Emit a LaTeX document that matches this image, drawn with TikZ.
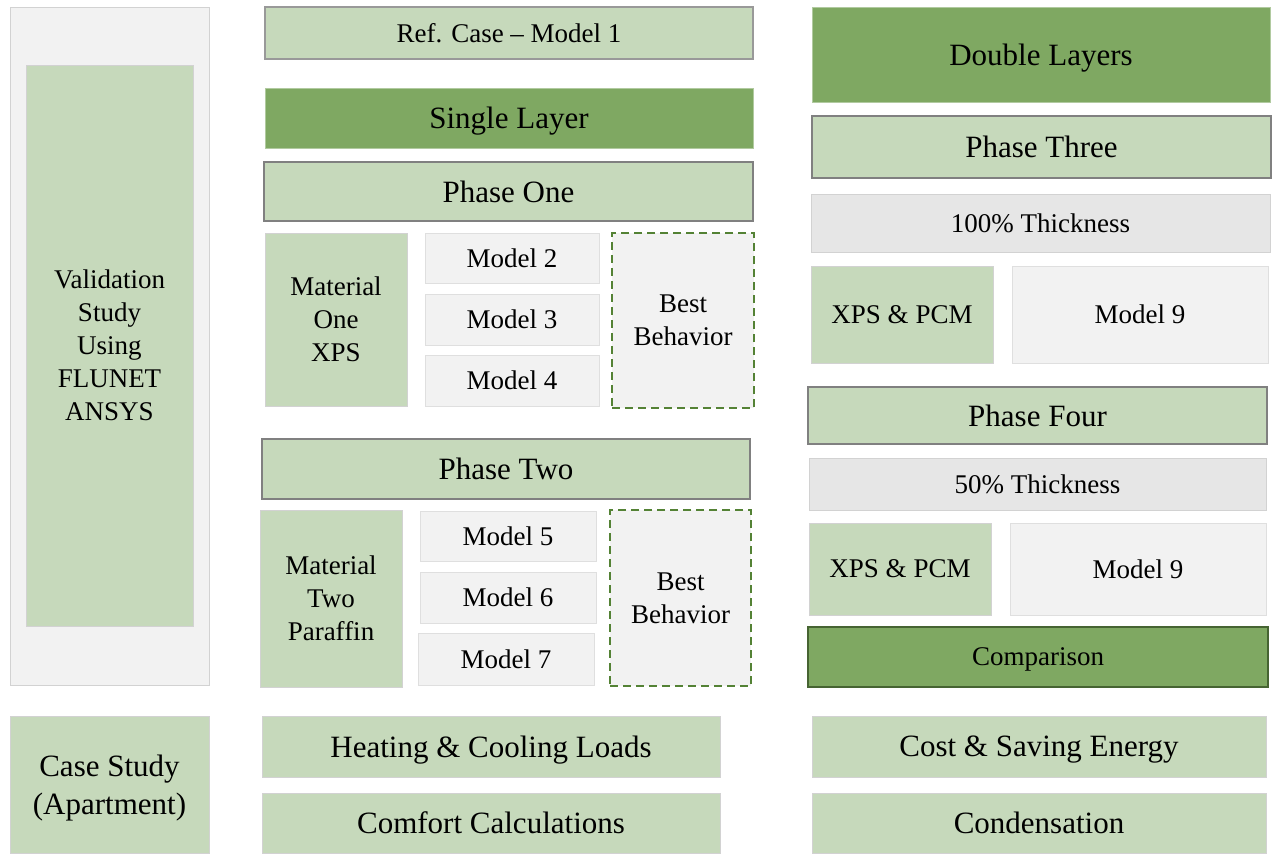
\documentclass[tikz,border=0pt]{standalone}
\usepackage{fontspec}
\setmainfont{Liberation Serif}
\definecolor{palegreen}{RGB}{198,217,187}
\definecolor{deepgreen}{RGB}{127,168,98}
\definecolor{dashgreen}{RGB}{84,130,53}
\definecolor{rimgreen}{RGB}{70,100,50}
\definecolor{paper}{RGB}{242,242,242}
\definecolor{band}{RGB}{230,230,230}
\definecolor{rim}{RGB}{210,210,210}
\definecolor{darkrim}{RGB}{128,128,128}
\tikzstyle{every node}=[inner sep=0, outer sep=0, align=center, text depth=0pt, font=\fontsize{27}{33}\selectfont]
\tikzstyle{pale}=[fill=palegreen, draw=rim, line width=1]
\tikzstyle{deep}=[fill=deepgreen, draw=palegreen!70!deepgreen, line width=1, font=\fontsize{31}{36}\selectfont]
\tikzstyle{phasebox}=[fill=palegreen, draw=darkrim, line width=2, font=\fontsize{31}{36}\selectfont]
\tikzstyle{modelbox}=[fill=paper, draw=rim!70!white, line width=1]
\tikzstyle{bandbox}=[fill=band, draw=rim, line width=1]
\tikzstyle{best}=[fill=paper, draw=dashgreen, line width=2, dash pattern=on 8pt off 5pt]
\tikzstyle{result}=[pale, font=\fontsize{31}{38}\selectfont]

\begin{document}
\begin{tikzpicture}[x=1pt, y=-1pt]
\useasboundingbox (0,0) rectangle (1273,854);
% Left column
    \node[modelbox, draw=rim, minimum width=199, minimum height=678] (valframe) at (109.5,346) {};
    \node[pale, minimum width=167, minimum height=561] (validation) at (109.5,345.5) {Validation\\Study\\Using\\FLUNET\\ANSYS};
    \node[result, minimum width=199, minimum height=137] (casestudy) at (109.5,784.5) {Case Study\\(Apartment)};
% Single layer
    \node[pale, draw=darkrim!80!white, line width=1.5, minimum width=488, minimum height=52] (refcase) at (509,33) {Ref. Case -- Model 1};
    \node[deep, minimum width=488, minimum height=60] (single) at (509,118) {Single Layer};
    \node[phasebox, minimum width=489, minimum height=59] (phaseone) at (508.5,191.5) {Phase One};
    \node[pale, minimum width=142, minimum height=173] (matone) at (336,319.5) {Material\\One\\XPS};
    \node[modelbox, minimum width=174, minimum height=50] (modeltwo) at (512,258) {Model 2};
    \node[modelbox, minimum width=174, minimum height=51] (modelthree) at (512,319.5) {Model 3};
    \node[modelbox, minimum width=174, minimum height=51] (modelfour) at (512,380.5) {Model 4};
    \node[best, minimum width=142, minimum height=175] (bestone) at (683,320.5) {Best\\Behavior};
    \node[phasebox, minimum width=488, minimum height=60] (phasetwo) at (506,469) {Phase Two};
    \node[pale, minimum width=142, minimum height=177] (mattwo) at (331,598.5) {Material\\Two\\Paraffin};
    \node[modelbox, minimum width=176, minimum height=50] (modelfive) at (508,536) {Model 5};
    \node[modelbox, minimum width=176, minimum height=51] (modelsix) at (508,597.5) {Model 6};
    \node[modelbox, minimum width=176, minimum height=52] (modelseven) at (506,659) {Model 7};
    \node[best, minimum width=141, minimum height=176] (besttwo) at (680.5,598) {Best\\Behavior};
% Double layers
    \node[deep, minimum width=458, minimum height=95] (double) at (1041,54.5) {Double Layers};
    \node[phasebox, minimum width=459, minimum height=62] (phasethree) at (1041.5,147) {Phase Three};
    \node[bandbox, minimum width=459, minimum height=58] (fullthick) at (1040.5,223) {100\% Thickness};
    \node[pale, minimum width=182, minimum height=97] (xpsone) at (902,314.5) {XPS \& PCM};
    \node[modelbox, minimum width=256, minimum height=97] (nineone) at (1140,314.5) {Model 9};
    \node[phasebox, minimum width=459, minimum height=57] (phasefour) at (1037.5,415.5) {Phase Four};
    \node[bandbox, minimum width=457, minimum height=52] (halfthick) at (1037.5,484) {50\% Thickness};
    \node[pale, minimum width=182, minimum height=92] (xpstwo) at (900,569) {XPS \& PCM};
    \node[modelbox, minimum width=256, minimum height=92] (ninetwo) at (1138,569) {Model 9};
    \node[deep, draw=rimgreen, line width=2, font=\fontsize{27}{33}\selectfont, minimum width=460, minimum height=60] (compare) at (1038,657) {Comparison};
% Results
    \node[result, minimum width=458, minimum height=61] (loads) at (491,746.5) {Heating \& Cooling Loads};
    \node[result, minimum width=458, minimum height=60] (comfort) at (491,823) {Comfort Calculations};
    \node[result, minimum width=454, minimum height=61] (cost) at (1039,746.5) {Cost \& Saving Energy};
    \node[result, minimum width=454, minimum height=60] (condense) at (1039,823) {Condensation};
\end{tikzpicture}
\end{document}
